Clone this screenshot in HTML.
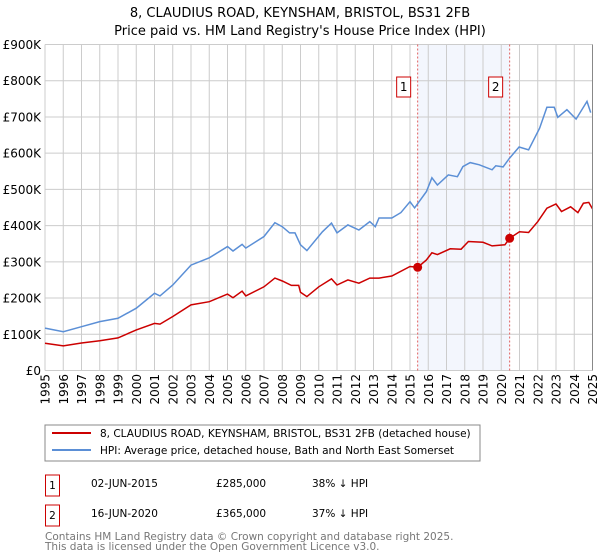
<!DOCTYPE html>
<html><head><meta charset="utf-8"><style>
body{margin:0;background:#fff;font-family:"DejaVu Sans","Liberation Sans",sans-serif;}
#wrap{position:relative;width:600px;height:560px;overflow:hidden;}
svg text{font-family:"DejaVu Sans","Liberation Sans",sans-serif;}
</style></head><body>
<div id="wrap">
<svg id="chart" width="600" height="560">
<text x="300" y="17" text-anchor="middle" font-size="13">8, CLAUDIUS ROAD, KEYNSHAM, BRISTOL, BS31 2FB</text>
<text x="300" y="35" text-anchor="middle" font-size="13">Price paid vs. HM Land Registry's House Price Index (HPI)</text>
<g id="grid"></g><g id="marks"></g><g id="axes"></g>
<rect x="45" y="425" width="435" height="36" fill="#fff" stroke="#888"/>
<line x1="52" y1="433" x2="91" y2="433" stroke="#cc0000" stroke-width="2"/>
<text x="100" y="437" font-size="10.5">8, CLAUDIUS ROAD, KEYNSHAM, BRISTOL, BS31 2FB (detached house)</text>
<line x1="52" y1="450" x2="91" y2="450" stroke="#5b8fd6" stroke-width="2"/>
<text x="100" y="454" font-size="10.5">HPI: Average price, detached house, Bath and North East Somerset</text>
<rect x="45.5" y="475" width="14" height="21" fill="#fff" stroke="#cc0000"/>
<text x="52.5" y="489" text-anchor="middle" font-size="10.5">1</text>
<text x="91" y="487" font-size="10.5">02-JUN-2015</text>
<text x="216" y="487" font-size="10.5">£285,000</text>
<text x="312" y="487" font-size="10.5">38% ↓ HPI</text>
<rect x="45.5" y="505" width="14" height="21" fill="#fff" stroke="#cc0000"/>
<text x="52.5" y="519" text-anchor="middle" font-size="10.5">2</text>
<text x="91" y="517" font-size="10.5">16-JUN-2020</text>
<text x="216" y="517" font-size="10.5">£365,000</text>
<text x="312" y="517" font-size="10.5">37% ↓ HPI</text>
<text x="45" y="540" font-size="10.5" fill="#777">Contains HM Land Registry data © Crown copyright and database right 2025.</text>
<text x="45" y="550" font-size="10.5" fill="#777">This data is licensed under the Open Government Licence v3.0.</text>
</svg></div>
<script>
const hpiYears=[1995,1996,1997,1998,1999,2000,2001,2001.3,2002,2003,2004,2005,2005.3,2005.8,2006,2007,2007.6,2008,2008.4,2008.7,2009,2009.35,2010.2,2010.7,2011,2011.6,2012.2,2012.8,2013.1,2013.3,2014,2014.5,2015,2015.25,2015.9,2016.2,2016.5,2017.1,2017.6,2017.9,2018.3,2018.8,2019.5,2019.7,2020.1,2020.45,2020.98,2021.5,2022.1,2022.5,2022.9,2023.1,2023.6,2024.1,2024.7,2024.9];
const hpiValues=[117,107,121,135,144,172,213,206,236,291,311,342,330,348,338,370,408,397,380,380,347,331,383,407,380,402,388,411,397,421,421,436,466,449,494,532,512,540,535,563,574,568,554,565,562,586,617,609,669,727,727,699,720,694,743,712];
const priceYears=[1995,1996,1997,1998,1999,2000,2001,2001.3,2002,2003,2004,2005,2005.3,2005.8,2006,2007,2007.6,2008,2008.5,2008.9,2009,2009.35,2010,2010.7,2011,2011.6,2012.2,2012.8,2013.3,2014,2015,2015.42,2015.9,2016.2,2016.5,2017.2,2017.8,2018.2,2019,2019.5,2020.2,2020.46,2021,2021.5,2022,2022.5,2023,2023.3,2023.8,2024.2,2024.5,2024.8,2025];
const priceValues=[75,68,76,82,90,112,130,128,149,181,190,211,201,219,206,231,255,247,235,235,216,204,231,253,236,250,241,255,255,261,287,285,305,325,320,336,335,356,354,344,347,365,383,381,411,448,460,439,452,436,462,464,446];
const saleYears=[2015.42,2020.46];
const saleValues=[285,365];
const saleLabels=["1","2"];
const yTicks=[0,100,200,300,400,500,600,700,800,900];
const yTickLabels=["£0","£100K","£200K","£300K","£400K","£500K","£600K","£700K","£800K","£900K"];
const xTicks=[1995,1996,1997,1998,1999,2000,2001,2002,2003,2004,2005,2006,2007,2008,2009,2010,2011,2012,2013,2014,2015,2016,2017,2018,2019,2020,2021,2022,2023,2024,2025];
const NS="http://www.w3.org/2000/svg";
const X0=45,X1=592.5,Y0=370.5,Y1=44.5;
const xs=y=>X0+(y-1995)/30*(X1-X0);
const ys=v=>Y0-v/900*(Y0-Y1);
function mk(tag,attrs,parent){const e=document.createElementNS(NS,tag);for(const k in attrs)e.setAttribute(k,attrs[k]);parent.appendChild(e);return e;}
const grid=document.getElementById('grid'),marks=document.getElementById('marks'),axes=document.getElementById('axes');
let band=mk('rect',{x:xs(saleYears[0]),y:Y1,width:xs(saleYears[1])-xs(saleYears[0]),height:Y0-Y1,fill:'#f3f6fd'},grid);


yTicks.forEach((t,i)=>{
 let l=mk('line',{x1:X0,x2:X1,y1:ys(t),y2:ys(t),stroke:'#ccc'},grid);
 
 
 let tx=mk('text',{x:X0-4,y:ys(t)+4.5,'text-anchor':'end','font-size':12},axes);
 tx.textContent=yTickLabels[i];
 
 
});
xTicks.forEach(t=>{
 let l=mk('line',{x1:xs(t),x2:xs(t),y1:Y1,y2:Y0,stroke:'#ccc'},grid);
 
 
 let tx=mk('text',{x:0,y:0,'text-anchor':'end','font-size':12,transform:`translate(${xs(t)+4.5},374) rotate(-90)`},axes);
 tx.textContent=t;
 
 
});
saleYears.forEach((y,i)=>{
 let l=mk('line',{x1:xs(y),x2:xs(y),y1:Y1,y2:Y0,stroke:'#e06060','stroke-dasharray':'2,2'},grid);
 
 
 let r=mk('rect',{x:xs(y)-21,y:77,width:14,height:20,fill:'#fff',stroke:'#cc0000'},marks);
 
 
 let tx=mk('text',{x:xs(y)-14,y:91,'text-anchor':'middle','font-size':12},marks);
 tx.textContent=saleLabels[i];
 
 
});
function path(xa,va){return xa.map((y,i)=>(i?'L':'M')+xs(y).toFixed(1)+','+ys(va[i]).toFixed(1)).join('');}
let hp=mk('path',{d:path(hpiYears,hpiValues),fill:'none',stroke:'#5b8fd6','stroke-width':1.5},marks);


let pp=mk('path',{d:path(priceYears,priceValues),fill:'none',stroke:'#cc0000','stroke-width':1.5},marks);


saleYears.forEach((y,i)=>{
 let c=mk('circle',{cx:xs(y),cy:ys(saleValues[i]),r:4.5,fill:'#cc0000'},marks);
 
 
});
let ra=mk('line',{x1:X1,x2:X1,y1:Y1,y2:Y0,stroke:'#888'},axes);


</script>
</body></html>
